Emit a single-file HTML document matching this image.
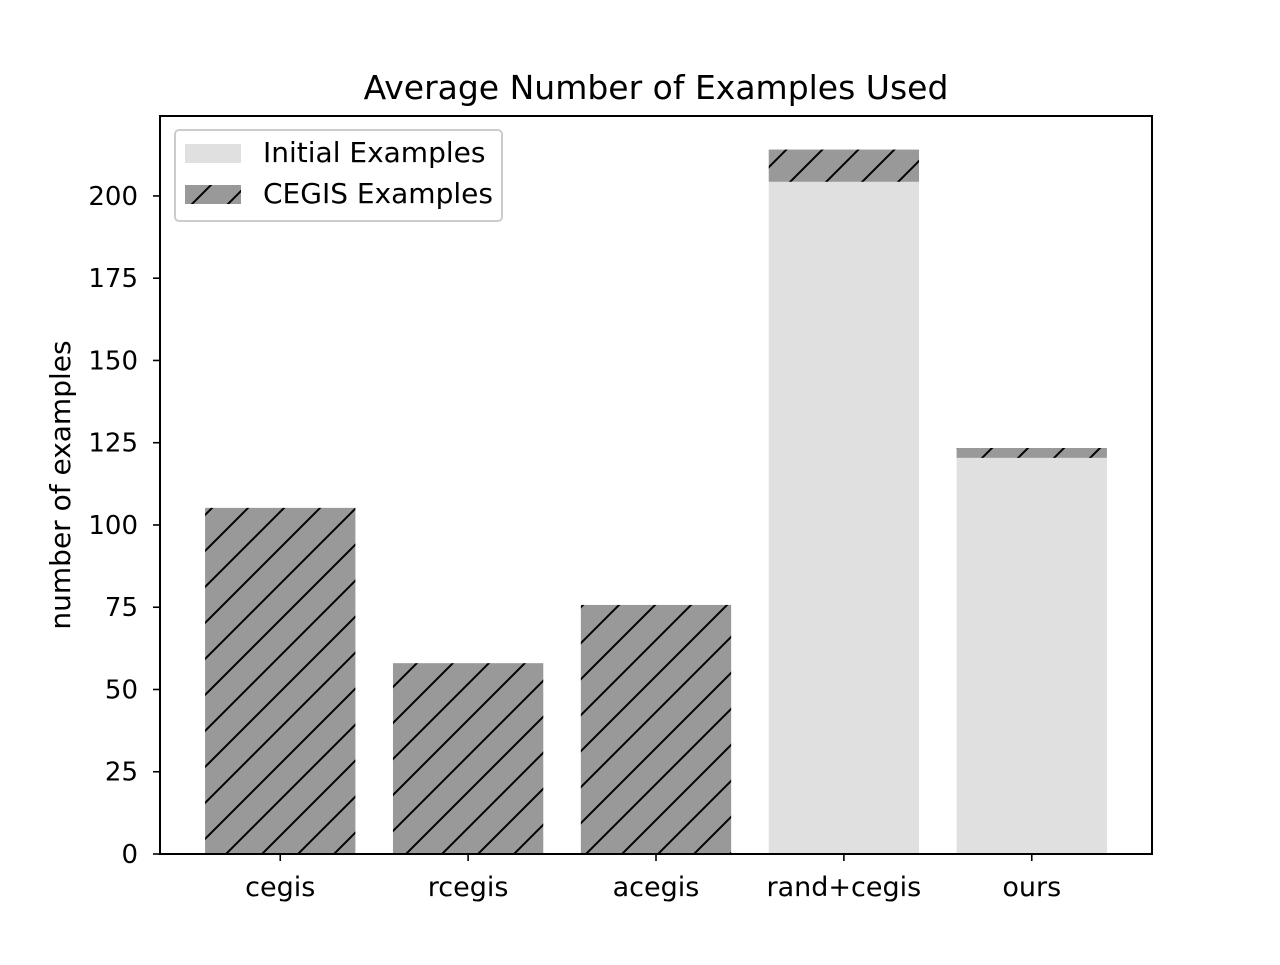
<!DOCTYPE html>
<html><head><meta charset="utf-8"><style>
body{margin:0;background:#fff}
text{font-family:"DejaVu Sans","Liberation Sans",sans-serif;fill:#000}
</style></head><body>
<svg id="chart" width="1280" height="960" xmlns="http://www.w3.org/2000/svg">
<defs>
<pattern id="hatch" patternUnits="userSpaceOnUse" width="36" height="36">
<rect width="36" height="36" fill="#999999"/>
<path d="M-9,9 L9,-9 M0,36 L36,0 M27,45 L45,27" stroke="#000" stroke-width="2"/>
</pattern>
</defs>
<rect width="1280" height="960" fill="#fff"/>
<text x="656" y="99" font-size="33" text-anchor="middle">Average Number of Examples Used</text>
<g id="bars"></g>
<g id="axes"></g>
<rect x="160" y="116" width="992" height="738" fill="none" stroke="#000" stroke-width="2"/>
<text transform="translate(70,485) rotate(-90)" font-size="28" text-anchor="middle">number of examples</text>
<g>
<rect x="175" y="130" width="327" height="91" rx="4" fill="#fff" fill-opacity="0.8" stroke="#ccc" stroke-width="2"/>
<rect x="185" y="144" width="56" height="19" fill="#e0e0e0"/>
<text x="263" y="162" font-size="28">Initial Examples</text>
<rect x="185" y="185" width="56" height="19" fill="url(#hatch)"/>
<text x="263" y="203" font-size="28">CEGIS Examples</text>
</g>
</svg>
<script>
const categories=["cegis","rcegis","acegis","rand+cegis","ours"];
const initialVals=[0,0,0,204.3,120.4];
const cegisVals=[105.2,58.0,75.7,9.8,3.0];
const yTicks=[0,25,50,75,100,125,150,175,200];
const NS="http://www.w3.org/2000/svg";
const X0=160,X1=1152,Y0=854,Y1=116,xmin=-0.64,xmax=4.64,ymin=0,ymax=224.3;
function xs(v){return X0+(v-xmin)/(xmax-xmin)*(X1-X0);}
function ys(v){return Y0-(v-ymin)/(ymax-ymin)*(Y0-Y1);}
function mk(tag,attrs,parent){const e=document.createElementNS(NS,tag);for(const k in attrs)e.setAttribute(k,attrs[k]);parent.appendChild(e);return e;}
const bars=document.getElementById('bars'),axes=document.getElementById('axes');
categories.forEach((c,i)=>{
  const l=xs(i-0.4),w=xs(i+0.4)-l;
  if(initialVals[i]>0){
    const r=mk('rect',{x:l,y:ys(initialVals[i]),width:w,height:ys(0)-ys(initialVals[i]),fill:'#e0e0e0'},bars);
    
    
  }
  const top=initialVals[i]+cegisVals[i];
  const r2=mk('rect',{x:l,y:ys(top),width:w,height:ys(initialVals[i])-ys(top),fill:'url(#hatch)'},bars);
  
  
  const x=xs(i);
  const t=mk('line',{x1:x,x2:x,y1:Y0,y2:Y0+7,stroke:'#000','stroke-width':1.6},axes);
  
  
  const tx=mk('text',{x:x,y:Y0+42,'font-size':27,'text-anchor':'middle'},axes);
  tx.textContent=c;
  
  
});
yTicks.forEach(v=>{
  const y=ys(v);
  const t=mk('line',{x1:X0-7,x2:X0,y1:y,y2:y,stroke:'#000','stroke-width':1.6},axes);
  
  
  const tx=mk('text',{x:X0-22,y:y+9,'font-size':26,'text-anchor':'end'},axes);
  tx.textContent=v;
  
  
});
</script>
</body></html>
